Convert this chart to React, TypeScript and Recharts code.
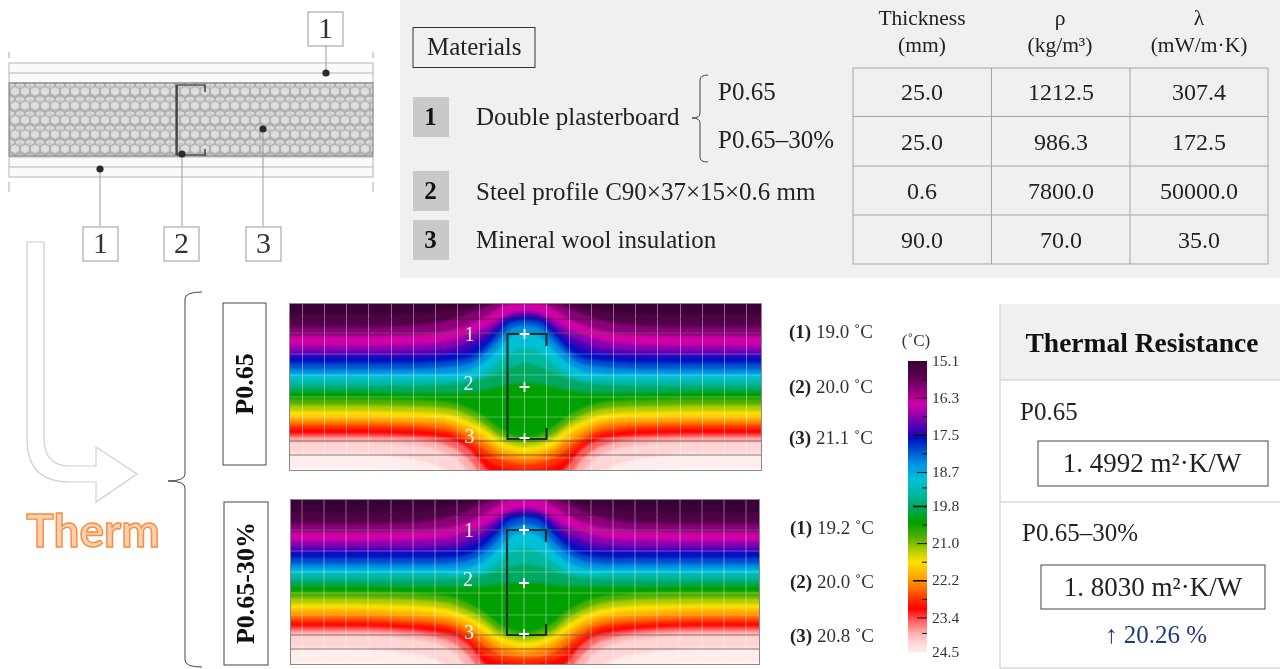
import { AreaChart, Area, BarChart, Bar, ComposedChart, Line, Scatter, XAxis, YAxis, ReferenceLine } from "recharts";

const SERIF = "'Liberation Serif', serif";

// colour of the region on the cold side of each isotherm, coldest first
const bandColors = ["#3b0037", "#520048", "#8a0078", "#d000a8", "#8a00b0", "#4400b8", "#0010c0", "#0050d0", "#0090e0", "#00c0d8", "#00b8a0", "#00a860", "#00a000", "#50b000", "#b0cc00", "#ffe000", "#ffb000", "#ff7800", "#ff3000", "#ff0000", "#ff6060", "#ffb0b0", "#ffd4d4", "#ffecec"];
const bandTemps = [15.1, 15.5, 16.0, 16.5, 16.9, 17.3, 17.6, 18.0, 18.4, 18.9, 19.4, 19.8, 20.3, 20.8, 21.2, 21.6, 22.0, 22.4, 22.8, 23.1, 23.5, 23.9, 24.2, 24.5];

// distance from the stud axis, edge to axis (the section is symmetric about the stud)
const halfColumns = [245, 170, 120, 90, 70, 55, 40, 28, 14, 0];

// isotherm depth below the panel top, one row per band
const isothermsP065 = [
  [12, 12, 11, 9, 6, 3, 0, 0, 0, 0],
  [24, 24, 23, 20, 15, 10, 4, 0, 0, 0],
  [33, 33, 32, 30, 26, 21, 13, 6, 0, 0],
  [43, 43, 42, 40, 36, 31, 24, 17, 10, 8],
  [49, 49, 48, 47, 44, 38, 31, 22, 13, 11],
  [54, 54, 54, 53, 50, 46, 37, 26, 15, 14],
  [60, 60, 60, 59, 57, 54, 44, 31, 19, 17],
  [66, 66, 66, 65, 63, 60, 50, 38, 25, 22],
  [71, 71, 71, 71, 70, 67, 58, 47, 33, 29],
  [77, 77, 77, 77, 77, 76, 69, 60, 49, 45],
  [83, 83, 83, 82, 81, 79, 75, 70, 64, 60],
  [89, 89, 90, 90, 90, 89, 87, 84, 81, 80],
  [96, 96, 97, 98, 101, 106, 115, 124, 132, 135],
  [102, 102, 103, 104, 107, 113, 122, 131, 137, 139],
  [108, 108, 109, 110, 113, 119, 127, 136, 142, 144],
  [113, 113, 114, 115, 119, 125, 134, 143, 148, 150],
  [118, 118, 119, 120, 124, 131, 140, 148, 153, 155],
  [122, 122, 123, 125, 129, 137, 147, 155, 159, 161],
  [126, 126, 127, 129, 134, 143, 156, 163, 166, 167],
  [131, 131, 132, 134, 138, 147, 165, 175, 175, 175],
  [135, 135, 136, 139, 146, 158, 175, 175, 175, 175],
  [139, 139, 141, 146, 155, 170, 175, 175, 175, 175],
  [150, 150, 155, 162, 172, 175, 175, 175, 175, 175],
  [166, 166, 168, 172, 175, 175, 175, 175, 175, 175],
];

const isothermsP06530 = [
  [13, 13, 12, 10, 7, 4, 0, 0, 0, 0],
  [25, 25, 24, 21, 16, 11, 4, 0, 0, 0],
  [33, 33, 32, 30, 27, 22, 14, 7, 0, 0],
  [42, 42, 41, 40, 37, 32, 26, 18, 11, 9],
  [48, 48, 48, 47, 45, 40, 33, 23, 14, 12],
  [53, 53, 53, 52, 51, 47, 39, 28, 16, 15],
  [59, 59, 59, 59, 58, 55, 46, 34, 21, 18],
  [65, 65, 65, 65, 64, 61, 53, 42, 28, 25],
  [70, 70, 70, 70, 70, 68, 61, 51, 37, 33],
  [75, 75, 75, 75, 76, 75, 71, 63, 53, 48],
  [81, 81, 81, 81, 80, 79, 76, 72, 68, 65],
  [87, 87, 88, 88, 88, 88, 87, 86, 84, 84],
  [93, 93, 94, 96, 99, 105, 114, 124, 131, 134],
  [99, 99, 100, 102, 106, 112, 121, 131, 136, 138],
  [105, 105, 106, 108, 112, 118, 127, 136, 141, 143],
  [110, 110, 112, 114, 118, 124, 134, 142, 147, 149],
  [115, 115, 117, 119, 123, 130, 140, 148, 152, 154],
  [120, 120, 122, 124, 128, 136, 147, 154, 158, 159],
  [124, 124, 126, 128, 133, 143, 156, 161, 164, 165],
  [128, 128, 130, 133, 137, 147, 166, 175, 175, 175],
  [132, 132, 134, 138, 145, 158, 175, 175, 175, 175],
  [136, 136, 139, 144, 154, 170, 175, 175, 175, 175],
  [149, 149, 154, 160, 171, 175, 175, 175, 175, 175],
  [165, 165, 167, 171, 175, 175, 175, 175, 175, 175],
];

const gridColumns = [-223, -201, -179, -157, -134, -112, -90, -68, -46, -23, -1, 21, 44, 66, 88, 110, 132, 155, 177, 199, 221];
const gridRowsP065 = [30, 51, 72, 94, 114, 135, 155];
const gridRowsP06530 = [31, 52, 73, 94, 116, 136, 156];
const boardLinesP065 = [16, 30, 138, 152];
const boardLinesP06530 = [16, 31, 136, 150];

const studOutline = [
  { x: 21, y: 43 },
  { x: 21, y: 31 },
  { x: -18, y: 31 },
  { x: -18, y: 136 },
  { x: 21, y: 136 },
  { x: 21, y: 125 },
];
const probes = [
  { x: -1, y: 31 },
  { x: -1, y: 84 },
  { x: -1, y: 135 },
];
const probeLabels = [
  { x: -56, y: 33, label: "1" },
  { x: -57, y: 82, label: "2" },
  { x: -56, y: 135, label: "3" },
];

const scaleTicks = [15.1, 15.7, 16.3, 16.9, 17.5, 18.1, 18.7, 19.2, 19.8, 20.4, 21.0, 21.6, 22.2, 22.8, 23.4, 23.9, 24.5];
const scaleLabelled = [15.1, 16.3, 17.5, 18.7, 19.8, 21.0, 22.2, 23.4, 24.5];
const scaleLong = [17.5, 19.8, 22.2];
const scaleMid = [16.3, 18.7, 21.0, 23.4];

const tableHeader = [
  ["Thickness", "(mm)"],
  ["ρ", "(kg/m³)"],
  ["λ", "(mW/m·K)"],
];
const thickness = ["25.0", "25.0", "0.6", "90.0"];
const density = ["1212.5", "986.3", "7800.0", "70.0"];
const conductivity = ["307.4", "172.5", "50000.0", "35.0"];

const readingsP065 = ["19.0", "20.0", "21.1"];
const readingsP06530 = ["19.2", "20.0", "20.8"];

function T({ x, y, size = 25, bold = false, anchor = "start", color = "#222", children, rotate, family = SERIF }: any) {
  return (
    <text x={x} y={y} dy={size * 0.09} fontSize={size} fontWeight={bold ? 700 : 400} textAnchor={anchor} fill={color} fontFamily={family} dominantBaseline="middle" transform={rotate ? `rotate(${rotate} ${x} ${y})` : undefined}>
      {children}
    </text>
  );
}

function buildRows(isotherms: number[][]) {
  const columns = [...halfColumns.map((d) => -d), ...halfColumns.slice(0, -1).reverse()];
  return columns.map((x, i) => {
    const col = i < halfColumns.length ? i : columns.length - 1 - i;
    const row: Record<string, number> = { x };
    isotherms.forEach((values, k) => {
      row[`k${k}`] = values[col];
    });
    return row;
  });
}

function PlusShape({ cx, cy }: any) {
  return <path d={`M${cx - 5} ${cy}H${cx + 5}M${cx} ${cy - 5}V${cy + 5}`} stroke="#fff" strokeWidth={1.8} />;
}

function NumberShape({ cx, cy, payload }: any) {
  return (
    <text x={cx} y={cy} fill="#fff" fontSize={20} fontFamily={SERIF} textAnchor="middle" dominantBaseline="middle">
      {payload.label}
    </text>
  );
}

function ThermalPanel({ left, top, width, height, isotherms, gridRows, boardLines }: any) {
  const rows = buildRows(isotherms);
  const pad = 4;
  const order = bandColors.map((_, k) => k).reverse();
  return (
    <div style={{ position: "absolute", left, top, width, height, overflow: "hidden" }}>
      <div style={{ position: "absolute", left: -pad, top: -pad, filter: "blur(1.8px)" }}>
        <AreaChart width={width + pad * 2} height={height + pad * 2} data={rows} margin={{ top: 0, right: 0, bottom: 0, left: 0 }}>
          <XAxis dataKey="x" type="number" domain={[-width / 2 - pad, width / 2 + pad]} allowDataOverflow hide />
          <YAxis type="number" domain={[-pad, height + pad]} reversed allowDataOverflow hide />
          {order.map((k) => (
            <Area key={k} dataKey={`k${k}`} type="monotone" baseValue={-pad} fill={bandColors[k]} fillOpacity={1} stroke="none" dot={false} activeDot={false} isAnimationActive={false} />
          ))}
        </AreaChart>
      </div>
      <div style={{ position: "absolute", left: 0, top: 0 }}>
        <ComposedChart width={width} height={height} margin={{ top: 0, right: 0, bottom: 0, left: 0 }}>
          <XAxis dataKey="x" type="number" domain={[-width / 2, width / 2]} allowDataOverflow hide />
          <YAxis dataKey="y" type="number" domain={[0, height]} reversed allowDataOverflow hide />
          {gridColumns.map((x) => (
            <ReferenceLine key={x} x={x} stroke="#fff" strokeOpacity={0.4} strokeWidth={1} />
          ))}
          {gridRows.map((y: number) => (
            <ReferenceLine key={y} y={y} stroke="#fff" strokeOpacity={0.3} strokeWidth={1} />
          ))}
          {boardLines.map((y: number) => (
            <ReferenceLine key={`b${y}`} y={y} stroke="#222" strokeOpacity={0.55} strokeWidth={1} />
          ))}
          <Line data={studOutline} dataKey="y" type="linear" stroke="#12362c" strokeWidth={2.2} dot={false} activeDot={false} isAnimationActive={false} />
          <Scatter data={probes} shape={<PlusShape />} isAnimationActive={false} />
          <Scatter data={probeLabels} shape={<NumberShape />} isAnimationActive={false} />
        </ComposedChart>
      </div>
      <div style={{ position: "absolute", left: 0, top: 0, width: width - 2, height: height - 2, border: "1px solid #8a8a8a" }} />
    </div>
  );
}

function ScaleTick({ x, y, payload }: any) {
  const v = payload.value;
  const edge = x - 8; // the bar's right edge
  const long = scaleLong.includes(v);
  const len = long ? 14 : scaleMid.includes(v) ? 10 : 5;
  const showMark = v !== 15.1 && v !== 24.5;
  return (
    <g>
      {showMark && <line x1={edge - len} x2={edge} y1={y} y2={y} stroke="#111" strokeWidth={long ? 1.6 : 1} />}
      {scaleLabelled.includes(v) && (
        <text x={edge + 5} y={y} dy={1} fontSize={15.5} fontFamily={SERIF} fill="#333" dominantBaseline="middle">
          {v.toFixed(1)}
        </text>
      )}
    </g>
  );
}

function ColourScale() {
  const span = bandTemps[bandTemps.length - 1] - bandTemps[0];
  return (
    <div style={{ position: "absolute", left: 908, top: 351 }}>
      <BarChart width={70} height={311} data={[{ name: "T", range: [15.1, 24.5] }]} margin={{ top: 10, right: 0, bottom: 10, left: 0 }} barCategoryGap={0}>
        <defs>
          <linearGradient id="thermScale" x1="0" y1="0" x2="0" y2="1">
            {bandColors.map((c, i) => (
              <stop key={c} offset={(bandTemps[i] - bandTemps[0]) / span} stopColor={c} />
            ))}
          </linearGradient>
        </defs>
        <XAxis dataKey="name" hide />
        <YAxis type="number" orientation="right" reversed domain={[15.1, 24.5]} ticks={scaleTicks} interval={0} width={51} axisLine={false} tickLine={false} tick={<ScaleTick />} />
        <Bar dataKey="range" fill="url(#thermScale)" isAnimationActive={false} />
      </BarChart>
    </div>
  );
}

function Backdrop() {
  return (
    <svg width={1280} height={669} style={{ position: "absolute", left: 0, top: 0 }}>
      <defs>
        <pattern id="wool" width={10} height={14.4} patternUnits="userSpaceOnUse">
          <rect width={10} height={14.4} fill="#b0b0b0" />
          <path d="M5 0.3L9.4 2.6V7.2L5 9.5L0.6 7.2V2.6Z M0 9.5L4.4 11.8V14.4H0Z M10 9.5L5.6 11.8V14.4H10Z M0 0H4.4L0 2.2Z M10 0H5.6L10 2.2Z" fill="#dedede" stroke="#999" strokeWidth={0.4} />
        </pattern>
      </defs>

      {/* section through the wall */}
      <g fill="none" stroke="#b5b5b5" strokeWidth={1}>
        <rect x={9} y={63} width={364} height={20} fill="#fafafa" />
        <path d="M9 73H373" />
        <rect x={9} y={157} width={364} height={20} fill="#fafafa" />
        <path d="M9 167H373" />
        <path d="M9 52V58M373 52V58M9 182V192M373 182V192" stroke="#aaa" />
      </g>
      <rect x={9} y={83} width={364} height={73} fill="url(#wool)" stroke="#777" />
      <path d="M205 85H177V155H205" fill="none" stroke="#555" strokeWidth={1.4} />
      <path d="M176.5 85V155" fill="none" stroke="#444" strokeWidth={2.2} />
      <path d="M205 85V92M205 149V156" fill="none" stroke="#444" strokeWidth={1.6} />
      <g stroke="#999" strokeWidth={1}>
        <path d="M326 46V73M100 169V226M182 154V226M263 129V226" />
      </g>
      {[[326, 73], [100, 169], [182, 154], [263, 129]].map(([cx, cy]) => (
        <circle key={cx} cx={cx} cy={cy} r={3.6} fill="#2a2a2a" />
      ))}
      {[[308, 12, "1"], [83, 227, "1"], [164, 227, "2"], [246, 227, "3"]].map(([x, y, n]: any) => (
        <g key={x}>
          <rect x={x} y={y} width={35} height={34} fill="#fff" stroke="#999" />
          <T x={x + 17.5} y={y + 16} size={30} anchor="middle" color="#333">{n}</T>
        </g>
      ))}

      {/* materials block */}
      <rect x={400} y={0} width={880} height={278} fill="#f0f0f0" />
      <rect x={413} y={27.5} width={122} height={40} fill="none" stroke="#333" />
      <T x={427} y={47}>Materials</T>
      {[[97, "1"], [171, "2"], [220, "3"]].map(([y, n]: any) => (
        <g key={n}>
          <rect x={413} y={y} width={36} height={40} fill="#c9c9c9" />
          <T x={430.5} y={y + 20} bold anchor="middle" color="#111">{n}</T>
        </g>
      ))}
      <T x={476} y={117}>Double plasterboard</T>
      <T x={476} y={192}>Steel profile C90×37×15×0.6 mm</T>
      <T x={476} y={240}>Mineral wool insulation</T>
      <T x={718} y={92}>P0.65</T>
      <T x={718} y={140}>P0.65–30%</T>
      <path d="M708 75Q700 75 700 80V113Q700 118 692 118Q700 118 700 123V157Q700 162 708 162" fill="none" stroke="#444" />

      {[922, 1060, 1199].map((x, i) => (
        <g key={x}>
          <T x={x} y={18} size={21.5} anchor="middle">{tableHeader[i][0]}</T>
          <T x={x} y={45} size={21.5} anchor="middle">{tableHeader[i][1]}</T>
        </g>
      ))}
      <g fill="none" stroke="#a6a6a6">
        <rect x={853} y={68} width={415} height={196} />
        <path d="M991.5 68V264M1130 68V264M853 116.5H1268M853 166H1268M853 215H1268" />
      </g>
      {[92, 142, 191, 240].map((y, i) => (
        <g key={y}>
          <T x={922} y={y} size={24} anchor="middle">{thickness[i]}</T>
          <T x={1061} y={y} size={24} anchor="middle">{density[i]}</T>
          <T x={1199} y={y} size={24} anchor="middle">{conductivity[i]}</T>
        </g>
      ))}

      {/* arrow from the section to the simulations */}
      <path d="M27 242V440Q27 482 70 482H96V502L137 474L96 447V466H70Q44 466 44 438V242Z" fill="#fff" stroke="#cfcfcf" strokeWidth={1.2} />
      <text x={93} y={547} textAnchor="middle" fontFamily="Lato, sans-serif" fontWeight={700} fontSize={46} fill="#fcd0ac" stroke="#f58b3f" strokeWidth={1.4}>Therm</text>
      <path d="M202 292Q185 292 185 299V474Q185 481 168 481Q185 481 185 488V660Q185 667 202 667" fill="none" stroke="#444" />

      <rect x={223} y={303} width={43} height={162} fill="#fff" stroke="#444" />
      <T x={245} y={384} size={26} bold anchor="middle" rotate={-90} color="#111">P0.65</T>
      <rect x={224} y={502} width={44} height={163} fill="#fff" stroke="#444" />
      <T x={246} y={583} size={26} bold anchor="middle" rotate={-90} color="#111">P0.65-30%</T>

      {[334, 389, 440].map((y, i) => (
        <text key={y} x={789} y={y} fontSize={19} fontFamily={SERIF} fill="#333" dominantBaseline="middle">
          <tspan fontWeight={700} fill="#222">({i + 1})</tspan> {readingsP065[i]} ˚C
        </text>
      ))}
      {[530, 584, 638].map((y, i) => (
        <text key={y} x={790} y={y} fontSize={19} fontFamily={SERIF} fill="#333" dominantBaseline="middle">
          <tspan fontWeight={700} fill="#222">({i + 1})</tspan> {readingsP06530[i]} ˚C
        </text>
      ))}
      <T x={916} y={341} size={17} anchor="middle" color="#333">(˚C)</T>

      {/* thermal resistance block */}
      <rect x={1000} y={304} width={280} height={76} fill="#f0f0f0" />
      <path d="M1000 304V668M1000 380H1280M1000 502H1280M1000 668H1280" fill="none" stroke="#d9d9d9" strokeWidth={1.5} />
      <T x={1142} y={343} size={27.5} bold anchor="middle" color="#111">Thermal Resistance</T>
      <T x={1020} y={412}>P0.65</T>
      <rect x={1038} y={441} width={230} height={45} fill="#fff" stroke="#444" />
      <T x={1152} y={463} size={27} anchor="middle">1. 4992 m²·K/W</T>
      <T x={1022} y={533}>P0.65–30%</T>
      <rect x={1041} y={565} width={224} height={44} fill="#fff" stroke="#444" />
      <T x={1153} y={587} size={27} anchor="middle">1. 8030 m²·K/W</T>
      <T x={1156} y={635} size={25} anchor="middle" color="#1f3a7a">↑ 20.26 %</T>
    </svg>
  );
}

export default function App() {
  return (
    <div style={{ position: "absolute", left: 0, top: 0, width: 1280, height: 669, background: "#fff", overflow: "hidden", filter: "blur(0.4px)" }}>
      <Backdrop />
      <ThermalPanel left={289} top={303} width={473} height={168} isotherms={isothermsP065} gridRows={gridRowsP065} boardLines={boardLinesP065} />
      <ThermalPanel left={290} top={499} width={470} height={166} isotherms={isothermsP06530} gridRows={gridRowsP06530} boardLines={boardLinesP06530} />
      <ColourScale />
    </div>
  );
}
